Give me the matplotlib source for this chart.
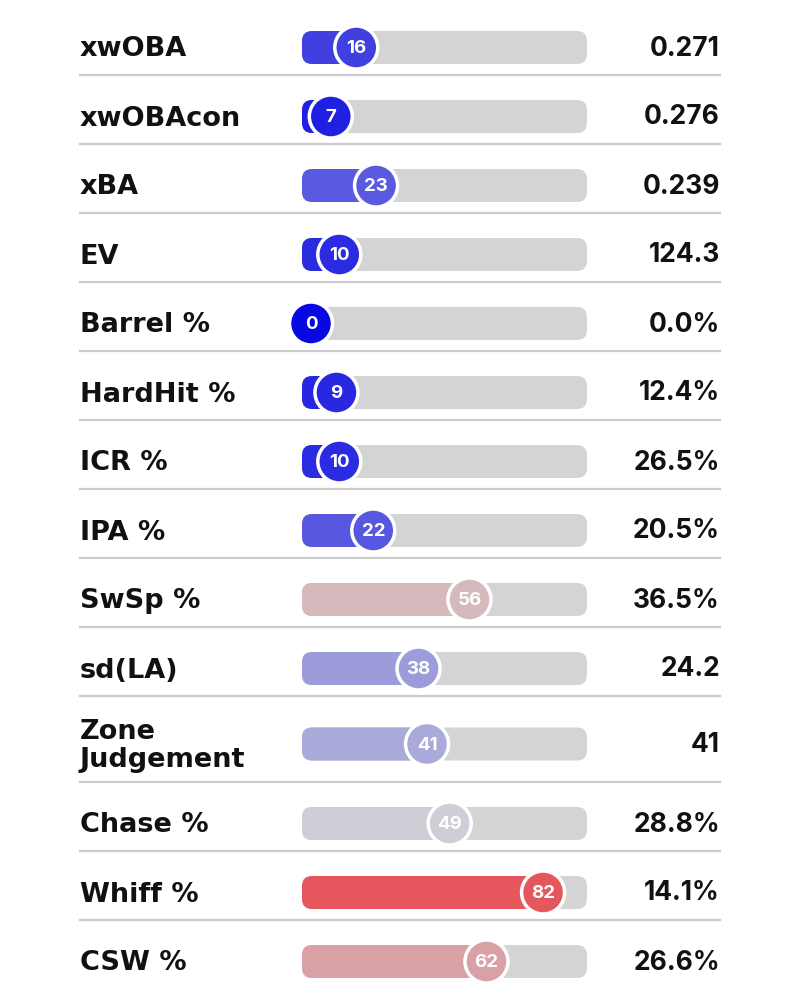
import matplotlib

matplotlib.use("Agg")
import matplotlib.pyplot as plt
from matplotlib.colors import LinearSegmentedColormap
from matplotlib.patches import Circle, FancyBboxPatch

# data
labels = ["xwOBA", "xwOBAcon", "xBA", "EV", "Barrel %", "HardHit %", "ICR %",
          "IPA %", "SwSp %", "sd(LA)", "Zone\nJudgement", "Chase %", "Whiff %", "CSW %"]
percentiles = [16, 7, 23, 10, 0, 9, 10, 22, 56, 38, 41, 49, 82, 62]
values = ["0.271", "0.276", "0.239", "124.3", "0.0%", "12.4%", "26.5%",
          "20.5%", "36.5%", "24.2", "41", "28.8%", "14.1%", "26.6%"]

# layout in pixels
W, H = 800, 987
LEFT, RIGHT = 80, 720
TRACK_X0, TRACK_X1 = 302, 587
BAR_H = 33
R_OUT = 21.5
DOT_X0, DOT_SCALE = 311, 2.83   # circle centre = DOT_X0 + DOT_SCALE * pct

cmap = LinearSegmentedColormap.from_list(
    "savant", [(0.0, "#0808e4"), (0.25, "#6262e0"), (0.5, "#d2d2d6"),
               (0.75, "#e06a6f"), (1.0, "#f2262c")])

fig = plt.figure(figsize=(W / 100, H / 100), dpi=100)
ax = fig.add_axes([0, 0, 1, 1])
ax.set_xlim(0, W)
ax.set_ylim(H, 0)
ax.axis("off")

top = 7
for lab, pct, val in zip(labels, percentiles, values):
    row_h = 86 if "\n" in lab else 69
    yc = top + row_h / 2 + (5 if "\n" in lab else 7)
    col = cmap(pct / 100)

    ax.text(LEFT, yc + 1, lab, ha="left", va="center", fontsize=19.5,
            fontweight="bold", color="#111111", linespacing=1.1)
    ax.text(RIGHT, yc, val, ha="right", va="center", fontsize=19,
            fontweight="bold", color="#111111", family="Inter")

    # grey track
    ax.add_patch(FancyBboxPatch((TRACK_X0, yc - BAR_H / 2), TRACK_X1 - TRACK_X0, BAR_H,
                                boxstyle="round,pad=0,rounding_size=10",
                                fc="#d4d4d4", ec="none", zorder=1))
    cx = DOT_X0 + DOT_SCALE * pct
    if pct > 0:
        ax.add_patch(FancyBboxPatch((TRACK_X0, yc - BAR_H / 2), cx - TRACK_X0, BAR_H,
                                    boxstyle="round,pad=0,rounding_size=10",
                                    fc=col, ec="none", zorder=2))
    ax.add_patch(Circle((cx, yc), R_OUT, fc=col, ec="white", lw=2.5, zorder=3))
    ax.text(cx, yc, str(pct), ha="center", va="center", fontsize=13.5,
            fontweight="bold", color="white", family="Inter", zorder=4)

    top += row_h
    if top < H - 20:
        ax.plot([LEFT, RIGHT], [top, top], color="#cccccc", lw=1.6, zorder=0)

fig.savefig("out.png", dpi=100, facecolor="white")
